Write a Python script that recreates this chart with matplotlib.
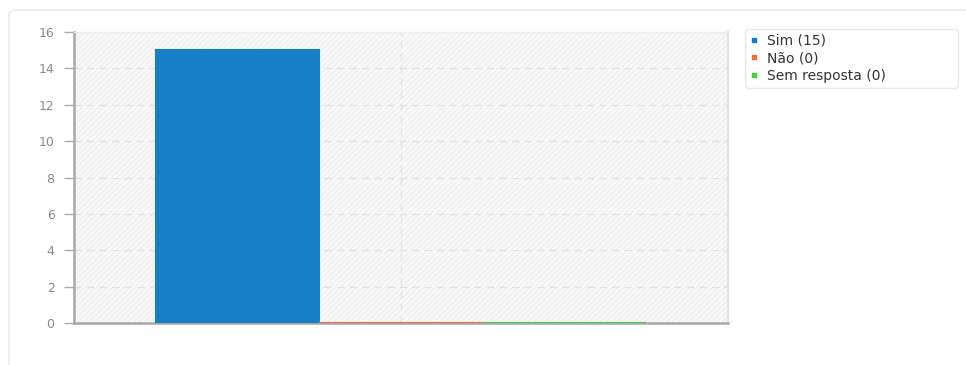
import matplotlib
matplotlib.use("Agg")
import matplotlib.pyplot as plt
from matplotlib.patches import Rectangle, FancyBboxPatch
from matplotlib.lines import Line2D

categories = ["Sim", "Não", "Sem resposta"]
values = [15, 0, 0]
colors = ["#1580c8", "#ee6e42", "#44d03c"]
yticks = [0, 2, 4, 6, 8, 10, 12, 14, 16]

plt.rcParams["font.family"] = ["DejaVu Sans"]
plt.rcParams["hatch.linewidth"] = 0.6

fig = plt.figure(figsize=(9.66, 3.65), dpi=100)
fig.patch.set_facecolor("white")

# rounded card behind the chart
card = FancyBboxPatch((9 / 966, -0.1), 1.2, 1 - 10 / 365 + 0.1,
                      boxstyle="round,pad=0,rounding_size=0.012",
                      transform=fig.transFigure, facecolor="white",
                      edgecolor="#e6e6e6", linewidth=1.0, zorder=-5)
fig.patches.append(card)

ax = fig.add_axes([74 / 966, 1 - 323 / 365, 654 / 966, 291 / 365])
ax.set_zorder(1)
ax.set_facecolor("#f7f7f7")
ax.add_patch(Rectangle((0, 0), 1, 1, transform=ax.transAxes,
                       facecolor="none", edgecolor="#ececec",
                       hatch="//////", linewidth=0, zorder=0))

x = list(range(len(categories)))
ax.bar(x, values, width=1.0, color=colors, edgecolor=colors,
       linewidth=1.5, zorder=3)

ax.set_xlim(-1, 3)
ax.set_ylim(0, 16)
ax.set_yticks(yticks)
ax.set_yticklabels([str(v) for v in yticks])
ax.set_xticks([1])
ax.set_xticklabels([])
ax.tick_params(axis="x", length=0)
ax.tick_params(axis="y", length=7, width=1, color="#aaaaaa",
               labelcolor="#8a8a8a", labelsize=9, pad=7)

ax.grid(True, color="#e2e2e2", linestyle=(0, (6, 4)), linewidth=0.9,
        zorder=1)
ax.set_axisbelow(True)

ax.spines["left"].set_color("#a8a8a8")
ax.spines["left"].set_linewidth(1.8)
ax.spines["bottom"].set_color("#a8a8a8")
ax.spines["bottom"].set_linewidth(1.8)
ax.spines["top"].set_color("#eeeeee")
ax.spines["top"].set_linewidth(1.0)
ax.spines["right"].set_color("#e2e2e2")
ax.spines["right"].set_linewidth(1.5)

handles = [Line2D([0], [0], marker="s", linestyle="none", markersize=3.5,
                  markerfacecolor=c, markeredgecolor=c) for c in colors]
labels = [f"{c} ({v})" for c, v in zip(categories, values)]
leg = fig.legend(handles, labels, loc="upper left",
                 bbox_to_anchor=(745 / 966, 1 - 29 / 365, 213 / 966, 0),
                 mode="expand", frameon=True, fontsize=10,
                 handlelength=0.6, handletextpad=0.6, labelspacing=0.25,
                 borderpad=0.35, fancybox=True, shadow=False,
                 borderaxespad=0)
leg.get_frame().set_edgecolor("#e4e4e4")
leg.get_frame().set_linewidth(1.0)
for t in leg.get_texts():
    t.set_color("#333333")

fig.savefig("out.png", dpi=100, facecolor="white")
